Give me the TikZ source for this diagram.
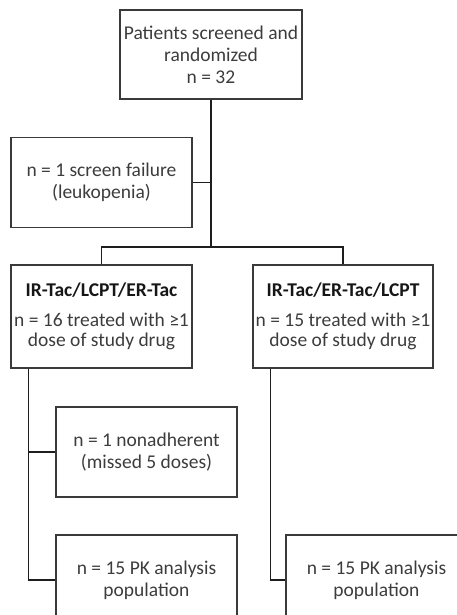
\documentclass[tikz,border=0pt]{standalone}
\usepackage{fontspec}
\setmainfont{Carlito}
\usetikzlibrary{positioning}
\definecolor{chartLine}{HTML}{1E1E1E}
\definecolor{chartBox}{HTML}{3A3A3A}
\definecolor{chartText}{HTML}{3C3C3C}
\definecolor{chartHead}{HTML}{161616}

\begin{document}
\begin{tikzpicture}[
    x=1pt,y=-1pt,
    every node/.style={font=\fontsize{19.5}{22}\selectfont,align=center,text=chartText},
    stage/.style={draw=chartBox,line width=1.2pt,minimum width=181pt,minimum height=90pt,inner sep=0pt},
    arm/.style={stage,minimum height=103pt,font=\fontsize{19.5}{20}\selectfont},
    link/.style={draw=chartLine,line width=1.3pt}
]
\useasboundingbox (0,0) rectangle (457,615);
\clip (0,0) rectangle (457,615);

\node[stage,minimum width=182pt,minimum height=89pt] (top) at (211,54.5)
    {Patients screened and\\randomized\\n = 32};
\node[stage] (fail) at (101.5,182.5) {n = 1 screen failure\\(leukopenia)};
\coordinate (split) at (211,247);
\draw[link] (top) -- (split);
\draw[link] (fail.east) -- (fail.east -| split);

% treatment sequences
\node[arm] (armA) at (101.5,316.5)
    {{\color{chartHead}\bfseries IR-Tac/LCPT/ER-Tac}\\[10pt]n = 16 treated with ≥1\\dose of study drug};
\node[arm,minimum width=180pt] (armB) at (343,316.5)
    {{\color{chartHead}\bfseries IR-Tac/ER-Tac/LCPT}\\[10pt]n = 15 treated with ≥1\\dose of study drug};
\draw[link] (armA.north) |- (split) -| (armB.north);

\node[stage] (nonadh) at (146.5,452) {n = 1 nonadherent\\(missed 5 doses)};
\node[stage] (pkA) at (146.5,580) {n = 15 PK analysis\\population};
\node[stage] (pkB) at (376.5,580) {n = 15 PK analysis\\population};
\coordinate (spineA) at ([xshift=18pt]armA.south west);
\coordinate (spineB) at ([xshift=18pt]armB.south west);
\draw[link] (spineA) |- (pkA.west);
\draw[link] (nonadh.west) -- (nonadh.west -| spineA);
\draw[link] (spineB) |- (pkB.west);
\end{tikzpicture}
\end{document}
